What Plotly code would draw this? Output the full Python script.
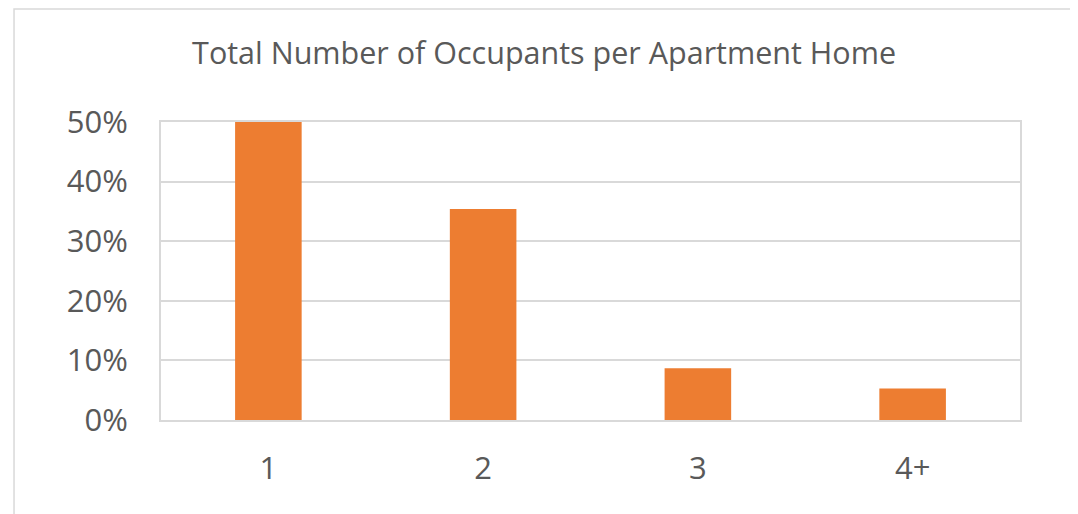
import plotly.graph_objects as go

categories = ["1", "2", "3", "4+"]
shares = [0.500, 0.354, 0.087, 0.053]

TEXT = "#595959"
GRID = "#d9d9d9"

fig = go.Figure()
fig.add_trace(go.Bar(
    x=categories, y=shares,
    marker=dict(color="#ED7D31", line=dict(width=0)),
    width=0.31,
))

# outer chart-area border
fig.add_shape(type="rect", xref="paper", yref="paper",
              x0=-0.1711, x1=1.064, y0=-0.34, y1=1.379,
              line=dict(color=GRID, width=1.5), layer="below")

fig.update_layout(
    width=1070, height=506,
    margin=dict(l=153, r=58, t=114, b=94),
    paper_bgcolor="white", plot_bgcolor="white",
    font=dict(family="Open Sans", color=TEXT, size=31),
    title=dict(text="Total Number of Occupants per Apartment Home",
               x=0.501, xanchor="center", y=0.911, yanchor="middle",
               font=dict(size=30.5, color=TEXT)),
    showlegend=False,
    bargap=0.69,
)
fig.update_xaxes(showgrid=False, showline=True, linecolor=GRID, linewidth=2,
                 mirror=True, ticks="", ticklabelstandoff=20)
fig.update_yaxes(range=[0, 0.5], dtick=0.1, tickformat=".0%",
                 showgrid=True, gridcolor=GRID, gridwidth=1.5,
                 showline=True, linecolor=GRID, linewidth=2, mirror=True,
                 zeroline=False, ticks="", ticklabelstandoff=25)

fig.write_html("out.html")
